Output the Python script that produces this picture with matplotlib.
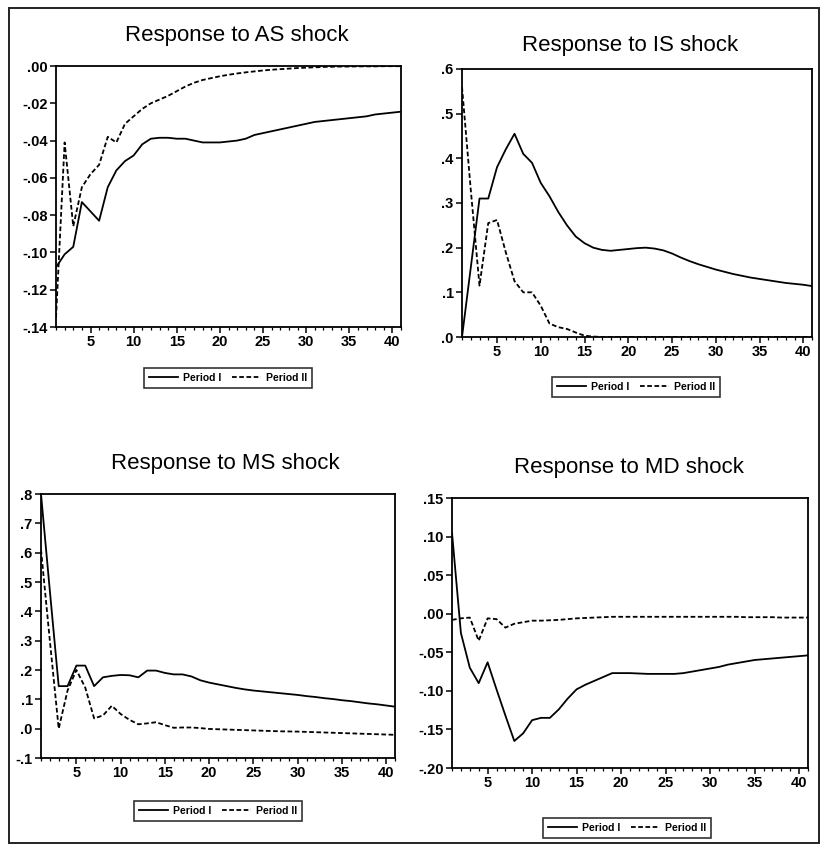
import numpy as np
import matplotlib
matplotlib.use("Agg")
import matplotlib.pyplot as plt
from matplotlib.ticker import FixedLocator, MultipleLocator, FuncFormatter
from matplotlib.patches import Rectangle

plt.rcParams['font.family'] = ['Liberation Sans', 'DejaVu Sans']

periods = np.arange(1, 42)

# ---------------- data ---------------- #
as_p1 = [-0.108, -0.101, -0.097, -0.073, -0.078, -0.083, -0.065, -0.056, -0.051, -0.048,
         -0.042, -0.039, -0.0385, -0.0385, -0.039, -0.039, -0.040, -0.041, -0.041, -0.041,
         -0.0405, -0.040, -0.039, -0.037, -0.036, -0.035, -0.034, -0.033, -0.032, -0.031,
         -0.030, -0.0295, -0.029, -0.0285, -0.028, -0.0275, -0.027, -0.026, -0.0255, -0.025,
         -0.0245]
as_p2 = [-0.135, -0.041, -0.086, -0.065, -0.058, -0.053, -0.038, -0.041, -0.031, -0.027,
         -0.023, -0.020, -0.018, -0.016, -0.0135, -0.011, -0.009, -0.0075, -0.0065, -0.0055,
         -0.0047, -0.004, -0.0034, -0.0029, -0.0024, -0.002, -0.0017, -0.0014, -0.0011, -0.0009,
         -0.0007, -0.0005, -0.0004, -0.0003, -0.0003, -0.0002, -0.0002, -0.0002, -0.0001, -0.0001,
         -0.0001]

is_p1 = [0.0, 0.155, 0.31, 0.31, 0.38, 0.42, 0.455, 0.41, 0.39, 0.345,
         0.315, 0.28, 0.25, 0.225, 0.21, 0.20, 0.195, 0.193, 0.195, 0.197,
         0.199, 0.20, 0.198, 0.194, 0.187, 0.178, 0.170, 0.163, 0.157, 0.151,
         0.146, 0.141, 0.137, 0.133, 0.130, 0.127, 0.124, 0.121, 0.119, 0.117,
         0.114]
is_p2 = [0.56, 0.33, 0.115, 0.255, 0.262, 0.19, 0.125, 0.10, 0.10, 0.07,
         0.03, 0.022, 0.018, 0.01, 0.003, 0.001, 0.0, 0.0, 0.0, 0.0,
         0.0, 0.0, 0.0, 0.0, 0.0, 0.0, 0.0, 0.0, 0.0, 0.0,
         0.0, 0.0, 0.0, 0.0, 0.0, 0.0, 0.0, 0.0, 0.0, 0.0,
         0.0]

ms_p1 = [0.80, 0.47, 0.145, 0.145, 0.215, 0.215, 0.145, 0.175, 0.18, 0.183,
         0.182, 0.175, 0.198, 0.198, 0.19, 0.185, 0.185, 0.178, 0.165, 0.157,
         0.151, 0.145, 0.139, 0.134, 0.130, 0.127, 0.124, 0.121, 0.118, 0.115,
         0.111, 0.108, 0.104, 0.101, 0.097, 0.094, 0.090, 0.086, 0.083, 0.079,
         0.075]
ms_p2 = [0.61, 0.30, 0.0, 0.13, 0.20, 0.14, 0.035, 0.045, 0.078, 0.05,
         0.03, 0.015, 0.018, 0.022, 0.012, 0.003, 0.004, 0.004, 0.002, -0.001,
         -0.002, -0.003, -0.004, -0.005, -0.006, -0.007, -0.008, -0.009, -0.0095, -0.010,
         -0.011, -0.012, -0.013, -0.014, -0.015, -0.016, -0.017, -0.018, -0.019, -0.020,
         -0.021]

md_p1 = [0.105, -0.025, -0.070, -0.090, -0.063, -0.098, -0.132, -0.165, -0.155, -0.138,
         -0.135, -0.135, -0.124, -0.110, -0.098, -0.092, -0.087, -0.082, -0.077, -0.077,
         -0.077, -0.0775, -0.078, -0.078, -0.078, -0.078, -0.077, -0.075, -0.073, -0.071,
         -0.069, -0.066, -0.064, -0.062, -0.060, -0.059, -0.058, -0.057, -0.056, -0.055,
         -0.054]
md_p2 = [-0.008, -0.006, -0.005, -0.035, -0.006, -0.007, -0.018, -0.013, -0.011, -0.009,
         -0.009, -0.0085, -0.008, -0.007, -0.006, -0.0055, -0.005, -0.0045, -0.004, -0.004,
         -0.004, -0.004, -0.004, -0.004, -0.004, -0.004, -0.004, -0.004, -0.004, -0.004,
         -0.004, -0.004, -0.004, -0.0045, -0.0045, -0.0045, -0.0045, -0.005, -0.005, -0.005,
         -0.005]

titles = ["Response to AS shock", "Response to IS shock",
          "Response to MS shock", "Response to MD shock"]
legend_labels = ["Period I", "Period II"]

# panel layout in pixels: left, right, top, bottom
W, H = 821, 847
panels = [
    dict(box=(56, 401, 66, 327), p1=as_p1, p2=as_p2, ylim=(-0.14, 0.0),
         yticks=np.arange(-0.14, 0.001, 0.02), dec=2, title_xy=(237, 36), leg_xy=(228, 378)),
    dict(box=(462, 812, 69, 337), p1=is_p1, p2=is_p2, ylim=(0.0, 0.6),
         yticks=np.arange(0.0, 0.61, 0.1), dec=1, title_xy=(630, 45), leg_xy=(636, 387)),
    dict(box=(41, 395, 494, 758), p1=ms_p1, p2=ms_p2, ylim=(-0.1, 0.8),
         yticks=np.arange(-0.1, 0.81, 0.1), dec=1, title_xy=(225, 463), leg_xy=(218, 811)),
    dict(box=(452, 808, 498, 768), p1=md_p1, p2=md_p2, ylim=(-0.2, 0.15),
         yticks=np.arange(-0.20, 0.151, 0.05), dec=2, title_xy=(629, 467), leg_xy=(627, 828)),
]


def eviews_fmt(dec):
    def f(v, pos):
        s = f"{v:.{dec}f}"
        if s.startswith("-0"):
            s = "-" + s[2:]
        elif s.startswith("0"):
            s = s[1:]
        if s.startswith("-") and float(s) == 0:
            s = s[1:]
        return s
    return FuncFormatter(f)


fig = plt.figure(figsize=(W / 100, H / 100), dpi=100)
fig.patch.set_facecolor("white")

# outer frame round the whole figure
fig.add_artist(Rectangle((9 / W, 1 - 843 / H), (819 - 9) / W, (843 - 8) / H,
                         transform=fig.transFigure, fill=False, lw=1.4, ec="#222222"))

for i, p in enumerate(panels):
    l, r, t, b = p["box"]
    ax = fig.add_axes([l / W, 1 - b / H, (r - l) / W, (b - t) / H])
    ax.plot(periods, p["p1"], color="black", lw=1.3, label=legend_labels[0])
    ax.plot(periods, p["p2"], color="black", lw=1.3, ls=(0, (2.6, 1.4)),
            label=legend_labels[1])
    ax.set_xlim(1, 41)
    ax.set_ylim(*p["ylim"])
    ax.xaxis.set_major_locator(FixedLocator(np.arange(5, 41, 5)))
    ax.xaxis.set_minor_locator(MultipleLocator(1))
    ax.yaxis.set_major_locator(FixedLocator(p["yticks"]))
    ax.yaxis.set_major_formatter(eviews_fmt(p["dec"]))
    ax.tick_params(axis="both", which="major", direction="out", length=4, width=1.1,
                   labelsize=10.5, pad=2)
    ax.tick_params(axis="x", which="minor", direction="out", length=2.5, width=0.9)
    for lab in ax.get_xticklabels() + ax.get_yticklabels():
        lab.set_fontweight("bold")
    for sp in ax.spines.values():
        sp.set_linewidth(1.3)

    fig.text(p["title_xy"][0] / W, 1 - p["title_xy"][1] / H, titles[i],
             ha="center", va="center", fontsize=16)

    lx, ly = p["leg_xy"]
    leg = fig.legend(*ax.get_legend_handles_labels(), loc="center",
                     bbox_to_anchor=(lx / W, 1 - ly / H), ncol=2,
                     frameon=True, fancybox=False, edgecolor="black",
                     handlelength=2.8, handletextpad=0.5, columnspacing=1.0,
                     borderpad=0.5, prop={"size": 7.5, "weight": "bold"})
    leg.get_frame().set_linewidth(1.2)

fig.savefig("out.png", dpi=100)
